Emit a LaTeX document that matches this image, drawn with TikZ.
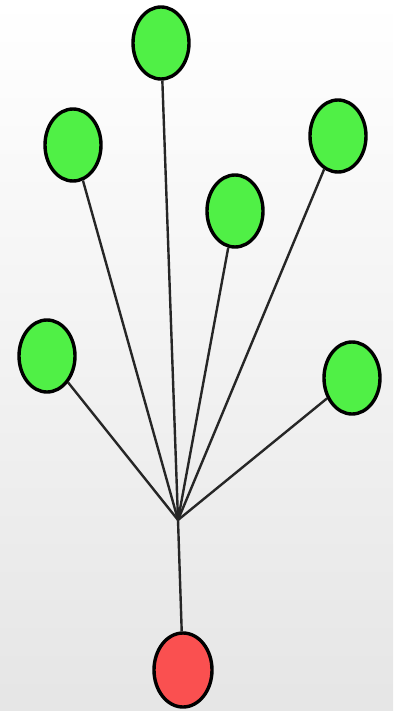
\documentclass[tikz,border=0pt]{standalone}
\usepackage{tikz}
\usetikzlibrary{positioning, shapes.geometric}
\definecolor{leafgreen}{RGB}{80,240,70}
\definecolor{rootred}{RGB}{250,80,80}

\begin{document}
\begin{tikzpicture}[
  x=1pt, y=-1pt,
  leaf/.style={ellipse, draw, line width=3.4pt, fill=leafgreen, minimum width=56pt, minimum height=72pt, inner sep=0pt},
  rootnode/.style={ellipse, draw, line width=3.4pt, fill=rootred, minimum width=58pt, minimum height=74pt, inner sep=0pt},
  edge/.style={line width=2.4pt, black!85}
]
  \shade[top color=white, bottom color=black!10] (0,0) rectangle (393,711);
  \useasboundingbox (0,0) rectangle (393,711);

  \coordinate (hub) at (178,520);

  \node[leaf] (top) at (161,43) {};
  \node[leaf] (ul) at (73,145) {};
  \node[leaf] (ur) at (338,136) {};
  \node[leaf] (mid) at (235,211) {};
  \node[leaf] (l) at (47,356) {};
  \node[leaf] (r) at (352,378) {};
  \node[rootnode] (root) at (183,670) {};

  \foreach \n in {top, ul, ur, mid, l, r}
    \draw[edge] (hub) -- (\n);
  \draw[edge] (hub) -- (root);
\end{tikzpicture}
\end{document}
